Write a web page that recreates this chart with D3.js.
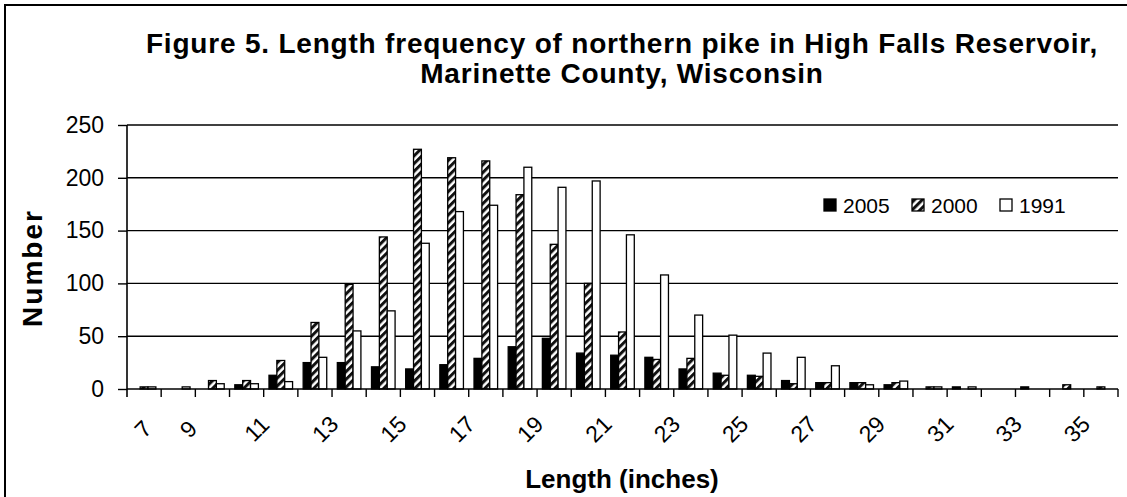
<!DOCTYPE html>
<html><head><meta charset="utf-8">
<script src="https://cdn.jsdelivr.net/npm/d3@7/dist/d3.min.js"></script>
<style>body{margin:0;background:#fff}svg{display:block}text{font-family:"Liberation Sans",Arial,sans-serif;fill:#000}</style>
</head><body><svg id="c" width="1127" height="497"></svg>
<script>
const categories = [7,8,9,10,11,12,13,14,15,16,17,18,19,20,21,22,23,24,25,26,27,28,29,30,31,32,33,34,35];
const tickLabels = ["7","9","11","13","15","17","19","21","23","25","27","29","31","33","35"];
const seriesNames = ["2005","2000","1991"];
const v2005 = [0,0,0,4,13,25,25,21,19,23,29,40,48,34,32,30,19,15,13,8,6,6,4,0,2,0,2,0,0];
const v2000 = [2,0,8,8,27,63,99,144,227,219,216,184,137,100,54,28,29,13,12,5,6,6,6,2,0,0,0,4,2];
const v1991 = [2,2,5,5,7,30,55,74,138,168,174,210,191,197,146,108,70,51,34,30,22,4,7.5,2,2,0,0,0,0];
const yTicks = [0,50,100,150,200,250];

const svg = d3.select("#c");
const M = {l:127, r:1118, t:125, b:389};
const defs = svg.append("defs");
const pat = defs.append("pattern").attr("id","hatch").attr("patternUnits","userSpaceOnUse")
  .attr("width",5.5).attr("height",5.5).attr("patternTransform","rotate(45)");
pat.append("rect").attr("width",5.5).attr("height",5.5).attr("fill","#fff");
pat.append("rect").attr("width",3).attr("height",5.5).attr("fill","#111");

// frame
svg.append("rect").attr("x",5).attr("y",5).attr("width",1300).attr("height",700)
  .attr("fill","none").attr("stroke","#000").attr("stroke-width",2);

const x0 = d3.scaleBand().domain(categories).range([M.l, M.r]).paddingInner(0).paddingOuter(0);
const bw = x0.bandwidth();
const x1 = d3.scaleBand().domain(seriesNames).range([bw*0.155, bw*0.845]);
const y = d3.scaleLinear().domain([0,250]).range([M.b, M.t]);

// gridlines
svg.append("g").selectAll("line").data(yTicks.filter(d=>d>0)).join("line")
  .attr("x1",M.l).attr("x2",M.r).attr("y1",d=>y(d)).attr("y2",d=>y(d))
  .attr("stroke","#000").attr("stroke-width",1.4);

const fills = {"2005":"#000","2000":"url(#hatch)","1991":"#fff"};
const vals = {"2005":v2005,"2000":v2000,"1991":v1991};
seriesNames.forEach(s=>{
  svg.append("g").selectAll("rect").data(categories.map((c,i)=>({c,v:vals[s][i]})).filter(d=>d.v>0)).join("rect")
    .attr("x",d=>x0(d.c)+x1(s)).attr("width",x1.bandwidth())
    .attr("y",d=>y(d.v)).attr("height",d=>y(0)-y(d.v))
    .attr("fill",fills[s]).attr("stroke","#000").attr("stroke-width",1.3);
});

// y axis
const ya = svg.append("g").attr("transform",`translate(${M.l},0)`)
  .call(d3.axisLeft(y).tickValues(yTicks).tickSize(9).tickPadding(14));
ya.select(".domain").attr("stroke-width",1.6).attr("d",`M-0,${M.b+8}V${M.t}`);
ya.selectAll(".tick line").attr("stroke-width",1.4);
ya.selectAll("text").attr("font-size",23).attr("font-family","Liberation Sans, Arial, sans-serif").attr("fill","#000");

// x axis
const xa = svg.append("g").attr("transform",`translate(0,${M.b})`);
xa.append("line").attr("x1",M.l).attr("x2",M.r).attr("stroke","#000").attr("stroke-width",1.6);
xa.selectAll("line.tk").data(categories.slice(1).map(c=>x0(c)).concat([M.r])).join("line").attr("class","tk")
  .attr("x1",d=>d).attr("x2",d=>d).attr("y1",0).attr("y2",8).attr("stroke","#000").attr("stroke-width",1.4);
xa.selectAll("text").data(tickLabels).join("text")
  .attr("transform",d=>`translate(${Math.max(x0(+d)+bw/2-24, M.l+16)},40) rotate(-45)`)
  .attr("text-anchor","middle").attr("dominant-baseline","central").attr("font-size",23).text(d=>d);

// titles
svg.append("text").attr("x",622).attr("y",53).attr("text-anchor","middle").attr("font-size",28).attr("font-weight","bold")
  .attr("letter-spacing",0.8).text("Figure 5. Length frequency of northern pike in High Falls Reservoir,");
svg.append("text").attr("x",622).attr("y",83).attr("text-anchor","middle").attr("font-size",28).attr("font-weight","bold")
  .attr("letter-spacing",0.8).text("Marinette County, Wisconsin");
svg.append("text").attr("transform","translate(42,268) rotate(-90)").attr("text-anchor","middle").attr("font-size",28).attr("font-weight","bold")
  .attr("letter-spacing",2).text("Number");
svg.append("text").attr("x",622).attr("y",488).attr("text-anchor","middle").attr("font-size",26).attr("font-weight","bold").text("Length (inches)");

// legend
const lg = svg.append("g");
const lx = [824,912,1000];
seriesNames.forEach((s,i)=>{
  lg.append("rect").attr("x",lx[i]).attr("y",199).attr("width",12).attr("height",12)
    .attr("fill",fills[s]).attr("stroke","#000").attr("stroke-width",1.3);
  lg.append("text").attr("x",lx[i]+19).attr("y",213).attr("font-size",21).text(s);
});
</script></body></html>
